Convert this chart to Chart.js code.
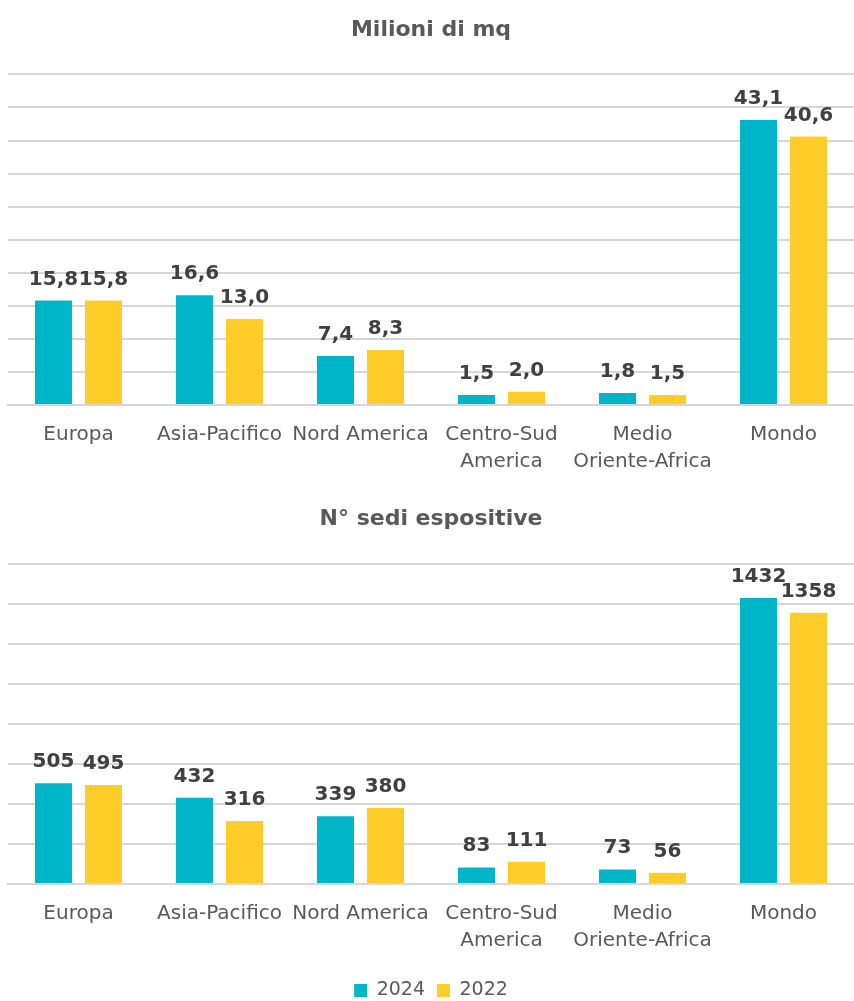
<!DOCTYPE html>
<html>
<head>
<meta charset="utf-8">
<script src="https://cdn.jsdelivr.net/npm/chart.js@4"></script>
<style>
  html, body { margin: 0; padding: 0; background: #fff; overflow: hidden; }
  #wrap { position: relative; width: 854px; height: 1001px; }
  .box { position: absolute; left: 0; width: 854px; }
  #top { top: 0; height: 480px; }
  #bottom { top: 480px; height: 530px; }
</style>
</head>
<body>
<div id="wrap">
  <div class="box" id="top"><canvas id="areaChart"></canvas></div>
  <div class="box" id="bottom"><canvas id="venueChart"></canvas></div>
</div>
<script>
const categories = ['Europa', 'Asia-Pacifico', 'Nord America', ['Centro-Sud', 'America'], ['Medio', 'Oriente-Africa'], 'Mondo'];
const seriesNames = ['2024', '2022'];
const area2024 = [15.8, 16.6, 7.4, 1.5, 1.8, 43.1];
const area2022 = [15.8, 13.0, 8.3, 2.0, 1.5, 40.6];
const venues2024 = [505, 432, 339, 83, 73, 1432];
const venues2022 = [495, 316, 380, 111, 56, 1358];

const TEAL = '#00b5c8';
const YELLOW = '#ffcd29';
const GRID = '#d6d6d6';
const TEXT = '#595959';
const LABEL = '#404040';
const FONT = '"DejaVu Sans", sans-serif';

// draws the value above each bar
const valueLabels = {
    id: 'valueLabels',
    afterDatasetsDraw(chart, args, opts) {
        const ctx = chart.ctx;
        ctx.save();
        ctx.font = 'bold 20px "DejaVu Sans", sans-serif';
        ctx.fillStyle = LABEL;
        ctx.textAlign = 'center';
        ctx.textBaseline = 'alphabetic';
        chart.data.datasets.forEach((ds, i) => {
            chart.getDatasetMeta(i).data.forEach((bar, j) => {
                ctx.fillText(opts.format(ds.data[j]), bar.x, bar.y - 16);
            });
        });
        ctx.restore();
    }
};

function makeChart(id, title, a, b, max, step, format, showLegend, titlePad, axisHeight) {
    return new Chart(document.getElementById(id), {
        type: 'bar',
        data: {
            labels: categories,
            datasets: [
                { label: seriesNames[0], data: a, backgroundColor: TEAL },
                { label: seriesNames[1], data: b, backgroundColor: YELLOW }
            ]
        },
        options: {
            responsive: true,
            maintainAspectRatio: false,
            animation: false,
            datasets: { bar: { categoryPercentage: 0.71, barPercentage: 0.74 } },
            layout: { padding: { left: 8, right: 0, top: 0, bottom: 0 } },
            plugins: {
                title: {
                    display: true,
                    text: title,
                    color: TEXT,
                    font: { family: FONT, size: 22, weight: 'bold' },
                    padding: titlePad
                },
                legend: {
                    display: showLegend,
                    position: 'bottom',
                    labels: {
                        color: TEXT,
                        font: { family: FONT, size: 19 },
                        boxWidth: 13,
                        boxHeight: 13,
                        padding: 12
                    }
                },
                tooltip: { enabled: false },
                valueLabels: { format }
            },
            scales: {
                x: {
                    grid: { display: false, drawTicks: false },
                    border: { color: GRID, width: 2 },
                    ticks: {
                        color: TEXT,
                        font: { family: FONT, size: 20, lineHeight: 1.35 },
                        padding: 16,
                        maxRotation: 0,
                        autoSkip: false
                    },
                    afterFit(scale) { scale.height = axisHeight; }
                },
                y: {
                    min: 0,
                    max: max,
                    grid: { color: GRID, lineWidth: 2, drawTicks: false },
                    border: { display: false },
                    ticks: { display: false, stepSize: step }
                }
            }
        },
        plugins: [valueLabels]
    });
}

makeChart('areaChart', 'Milioni di mq', area2024, area2022, 50, 5,
    v => v.toFixed(1).replace('.', ','), false, { top: 17, bottom: 31 }, 75);
makeChart('venueChart', 'N° sedi espositive', venues2024, venues2022, 1600, 200,
    v => String(v), true, { top: 26, bottom: 32 }, 85);
</script>
</body>
</html>
